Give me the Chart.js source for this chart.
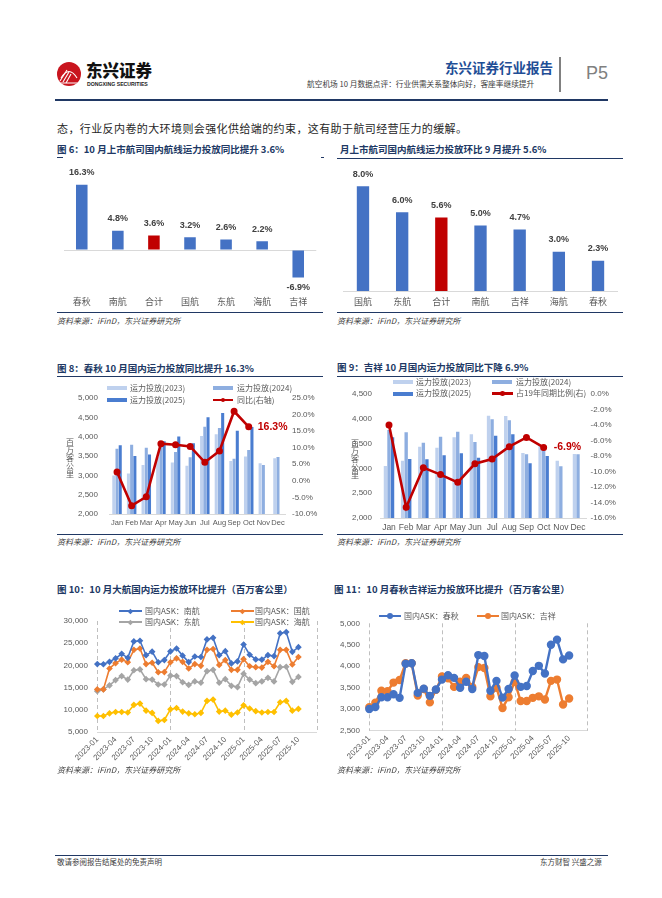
<!DOCTYPE html>
<html>
<head>
<meta charset="utf-8">
<script src="https://cdn.jsdelivr.net/npm/chart.js@4.4.0/dist/chart.umd.min.js"></script>
<style>
  body { margin: 0; background: #fff; width: 662px; height: 898px; position: relative; overflow: hidden;
         font-family: 'Noto Sans CJK SC', sans-serif; }
  .a { position: absolute; white-space: nowrap; z-index: 2; }
  .title { font-size: 9.5px; font-weight: 700; color: #203864; line-height: 12px; }
  .src { font-size: 8px; font-style: italic; color: #404040; line-height: 10px; }
  .hl { position: absolute; background: #203864; z-index: 2; }
  .lg { font-size: 8px; color: #595959; line-height: 10px; }
  .ytitle { position: absolute; z-index: 2; font-size: 8px; color: #595959; width: 8px; line-height: 8px;
            white-space: normal; word-break: break-all; text-align: center; }
  canvas { position: absolute; z-index: 1; }
</style>
</head>
<body>

<!-- page header -->
<svg class="a" style="left:57px;top:62px" width="24" height="24" viewBox="0 0 24 24">
  <defs><clipPath id="lc"><circle cx="12" cy="12" r="12"/></clipPath></defs>
  <circle cx="12" cy="12" r="12" fill="#C9151E"/>
  <g clip-path="url(#lc)" stroke="#fff" stroke-width="1.1" fill="none">
    <path d="M3 19 L10 8"/><path d="M6 20 L12 10"/><path d="M9 21 L14 12"/>
    <path d="M4 16 Q12 3 20 16"/><path d="M2 21 L22 21"/>
  </g>
</svg>
<div class="a" style="left:86px;top:60px;font-size:16.5px;font-weight:900;color:#111;line-height:20px">东兴证券</div>
<div class="a" style="left:87px;top:81px;font-size:5.2px;font-weight:700;color:#222;line-height:6px;font-family:'Liberation Sans'">DONGXING SECURITIES</div>
<div class="a" style="left:445px;top:59px;font-size:13.5px;font-weight:700;color:#1F4E96;line-height:16px">东兴证券行业报告</div>
<div class="a" style="left:307px;top:79px;font-size:7.7px;color:#404040;line-height:10px">航空机场 10 月数据点评：行业供需关系整体向好，客座率继续提升</div>
<div class="hl" style="left:559px;top:57px;width:1.5px;height:35px;background:#808080"></div>
<div class="a" style="left:586px;top:62px;font-size:18px;color:#808080;line-height:22px;font-family:'Liberation Sans'">P5</div>
<div class="hl" style="left:55px;top:99px;width:553px;height:2px"></div>

<div class="a" style="left:57px;top:121px;font-size:11px;letter-spacing:0.4px;color:#262626;line-height:14px">态，行业反内卷的大环境则会强化供给端的约束，这有助于航司经营压力的缓解。</div>

<!-- figure titles, rules and sources -->
<div class="a title" style="left:57px;top:143px">图 6：10 月上市航司国内航线运力投放同比提升 3.6%</div>
<div class="hl" style="left:57px;top:157px;width:6px;height:1px"></div>
<div class="hl" style="left:321px;top:157px;width:3px;height:1px"></div>
<div class="hl" style="left:57px;top:311.5px;width:266px;height:1.5px"></div>
<div class="a src" style="left:57px;top:316px">资料来源：iFinD，东兴证券研究所</div>

<div class="a title" style="left:340px;top:143px">月上市航司国内航线运力投放环比 9 月提升 5.6%</div>
<div class="hl" style="left:337px;top:157.5px;width:286px;height:1.5px"></div>
<div class="hl" style="left:337px;top:311.5px;width:286px;height:1.5px"></div>
<div class="a src" style="left:337px;top:316px">资料来源：iFinD，东兴证券研究所</div>

<div class="a title" style="left:57px;top:362px">图 8：春秋 10 月国内运力投放同比提升 16.3%</div>
<div class="hl" style="left:57px;top:375.5px;width:266px;height:1.5px"></div>
<div class="hl" style="left:57px;top:533.5px;width:266px;height:1.5px"></div>
<div class="a src" style="left:57px;top:537px">资料来源：iFinD，东兴证券研究所</div>
<div class="ytitle" style="left:66px;top:438px">百万客公里</div>

<div class="a title" style="left:337px;top:361px">图 9：吉祥 10 月国内运力投放同比下降 6.9%</div>
<div class="hl" style="left:337px;top:375.5px;width:286px;height:1.5px"></div>
<div class="hl" style="left:337px;top:533.5px;width:286px;height:1.5px"></div>
<div class="a src" style="left:337px;top:537px">资料来源：iFinD，东兴证券研究所</div>
<div class="ytitle" style="left:351px;top:439px">百万客公里</div>

<div class="a title" style="left:57px;top:583px">图 10：10 月大航国内运力投放环比提升（百万客公里）</div>
<div class="a src" style="left:57px;top:765px">资料来源：iFinD，东兴证券研究所</div>
<div class="a title" style="left:334px;top:583px">图 11：10 月春秋吉祥运力投放环比提升（百万客公里）</div>
<div class="a src" style="left:337px;top:765px">资料来源：iFinD，东兴证券研究所</div>

<!-- footer -->
<div class="hl" style="left:55px;top:855px;width:553px;height:1px"></div>
<div class="a" style="left:57px;top:857px;font-size:7.5px;color:#404040;line-height:10px">敬请参阅报告结尾处的免责声明</div>
<div class="a" style="left:540px;top:857px;font-size:7.5px;color:#404040;line-height:10px">东方财智 兴盛之源</div>

<script>
// ---- data ----
const fig6Names = ['春秋', '南航', '合计', '国航', '东航', '海航', '吉祥'];
const fig6Values = [16.3, 4.8, 3.6, 3.2, 2.6, 2.2, -6.9];

const fig7Names = ['国航', '东航', '合计', '南航', '吉祥', '海航', '春秋'];
const fig7Values = [8.0, 6.0, 5.6, 5.0, 4.7, 3.0, 2.3];

const months = ['Jan', 'Feb', 'Mar', 'Apr', 'May', 'Jun', 'Jul', 'Aug', 'Sep', 'Oct', 'Nov', 'Dec'];

// 春秋 domestic capacity, million seat-km
const springAsk2023 = [2995, 3050, 3270, 3470, 3330, 3250, 4020, 4060, 3370, 3485, 3310, 3440];
const springAsk2024 = [3685, 3790, 3715, 3860, 3605, 3468, 4255, 4225, 3430, 3655, 3270, 3472];
const springAsk2025 = [3780, 3502, 3537, 3880, 4005, 3830, 4502, 4615, 4156, 4251, null, null];
const springYoy = [2.7, -7.5, -4.8, 11.2, 10.9, 10.4, 5.6, 9.0, 21.0, 16.3, null, null];

// 吉祥
const juneyaoAsk2023 = [3048, 3156, 3438, 3418, 3626, 3687, 4063, 4056, 3311, 3472, 3156, 3290];
const juneyaoAsk2024 = [3774, 3727, 3519, 3640, 3740, 3532, 3989, 3969, 3284, 3405, 3042, 3284];
const juneyaoAsk2025 = [3626, 3190, 3183, 3264, 3304, 3217, 3660, 3687, 3102, 3250, null, null];
const juneyaoVs2019 = [-4.0, -14.6, -9.5, -10.4, -11.4, -9.0, -8.4, -6.8, -5.6, -6.9, null, null];

const monthLabels = [
  '2023-01', '2023-02', '2023-03', '2023-04', '2023-05', '2023-06', '2023-07', '2023-08', '2023-09', '2023-10', '2023-11', '2023-12',
  '2024-01', '2024-02', '2024-03', '2024-04', '2024-05', '2024-06', '2024-07', '2024-08', '2024-09', '2024-10', '2024-11', '2024-12',
  '2025-01', '2025-02', '2025-03', '2025-04', '2025-05', '2025-06', '2025-07', '2025-08', '2025-09', '2025-10', '2025-11', '2025-12',
  '2026-01'
];

const askSouthern = [20300, 20250, 20800, 21600, 22600, 21700, 25400, 25550, 22300, 23100, 20700, 21200,
                     23150, 23800, 22200, 20750, 22000, 21900, 25850, 26200, 22300, 23200, 20450, 20900,
                     24700, 22400, 21350, 21300, 22300, 22100, 27250, 27500, 23050, 24100];
const askAirChina = [14600, 14600, 19300, 20500, 21300, 20700, 23500, 23800, 20300, 20600, 18450, 18500,
                     20700, 21600, 20800, 19300, 20300, 19900, 23500, 23700, 20100, 21200, 19000, 19000,
                     21400, 19800, 19600, 19500, 20800, 19800, 23500, 23500, 20200, 21900];
const askEastern = [14200, 14600, 15500, 16700, 17600, 16800, 18900, 19100, 16900, 16800, 15700, 15700,
                    17700, 17600, 16200, 15600, 16400, 16100, 18700, 19000, 16100, 16900, 15400, 15100,
                    18100, 16800, 16000, 16400, 17200, 16400, 19600, 19700, 16300, 17400];
const askHainan = [8600, 8600, 9200, 9500, 9500, 9400, 11100, 11400, 9800, 9300, 7500, 7700,
                   10100, 10400, 9600, 9200, 9000, 9300, 12000, 12300, 9600, 9800, 8900, 9400,
                   11000, 10300, 9700, 9400, 9500, 9500, 11700, 12000, 9800, 10200];

const askSpring = [3005, 3050, 3280, 3280, 3350, 3265, 4060, 4070, 3380, 3480, 3310, 3460,
                   3690, 3790, 3730, 3500, 3640, 3470, 4260, 4240, 3430, 3660, 3270, 3470,
                   3785, 3520, 3540, 3890, 4010, 3830, 4500, 4620, 4160, 4250];
const askJuneyao = [3045, 3150, 3430, 3420, 3620, 3680, 4070, 4070, 3320, 3470, 3160, 3450,
                    3760, 3720, 3520, 3640, 3730, 3520, 3980, 3960, 3300, 3500, 3030, 3280,
                    3640, 3190, 3190, 3265, 3300, 3225, 3660, 3690, 3110, 3250];

// ---- styling ----
const BLUE = '#4472C4', RED = '#C00000', ORANGE = '#ED7D31', GRAY = '#A5A5A5', YELLOW = '#FFC000';
const C23 = '#BFD1EE', C24 = '#8EAEE0', C25 = '#4A7DD0';
const AXIS = '#D9D9D9';

Chart.defaults.font.family = "'Liberation Sans', 'Noto Sans CJK SC', sans-serif";
Chart.defaults.color = '#595959';
Chart.defaults.animation = false;
Chart.defaults.plugins.legend.display = false;
Chart.defaults.plugins.tooltip.enabled = false;

function mkCanvas(left, top, w, h) {
  const c = document.createElement('canvas');
  c.width = w; c.height = h;
  c.style.left = left + 'px'; c.style.top = top + 'px';
  c.style.width = w + 'px'; c.style.height = h + 'px';
  document.body.appendChild(c);
  return c;
}
const fixH = h => s => { s.height = h; };
const fixW = w => s => { s.width = w; };
const thousands = v => v.toLocaleString('en-US');

// value labels above / below bars
const barLabels = {
  id: 'barLabels',
  afterDatasetsDraw(chart, args, o) {
    const ctx = chart.ctx;
    const ds = chart.data.datasets[0];
    ctx.save();
    ctx.font = "bold 9px 'Liberation Sans'";
    ctx.fillStyle = '#404040';
    ctx.textAlign = 'center';
    ctx.textBaseline = 'middle';
    chart.getDatasetMeta(0).data.forEach((bar, i) => {
      const v = ds.data[i];
      const y = v >= 0 ? bar.y - o.gap : bar.y + o.gapNeg;
      ctx.fillText(v.toFixed(1) + '%', bar.x, y);
    });
    ctx.restore();
  }
};

// red call-out next to the last point of a line
const pointLabel = {
  id: 'pointLabel',
  afterDatasetsDraw(chart, args, o) {
    if (o.index === undefined) return;
    const pt = chart.getDatasetMeta(o.ds).data[o.index];
    const v = chart.data.datasets[o.ds].data[o.index];
    const ctx = chart.ctx;
    ctx.save();
    ctx.font = "bold 10.5px 'Liberation Sans'";
    ctx.fillStyle = RED;
    ctx.textAlign = 'left';
    ctx.textBaseline = 'middle';
    ctx.fillText(v.toFixed(1) + '%', pt.x + o.dx, pt.y);
    ctx.restore();
  }
};

// dashed vertical lines at each January
const yearLines = {
  id: 'yearLines',
  beforeDatasetsDraw(chart) {
    const {ctx, chartArea, scales: {x}} = chart;
    ctx.save();
    ctx.strokeStyle = '#BFBFBF';
    ctx.lineWidth = 1;
    ctx.setLineDash([4, 3]);
    chart.data.labels.forEach((lab, i) => {
      if (lab.endsWith('-01')) {
        const px = Math.round(x.getPixelForValue(i)) + 0.5;
        ctx.beginPath();
        ctx.moveTo(px, chartArea.top);
        ctx.lineTo(px, chartArea.bottom);
        ctx.stroke();
      }
    });
    ctx.restore();
  }
};

// html legend entries
function legend(x, y, kind, ds, textX) {
  const color = ds.borderColor || ds.backgroundColor;
  const el = document.createElement('div');
  el.className = 'a';
  if (kind.type === 'box') {
    el.style.cssText = `left:${x}px;top:${y - kind.h / 2}px;width:${kind.w}px;height:${kind.h}px;background:${color}`;
    document.body.appendChild(el);
  } else {
    el.style.cssText = `left:${x}px;top:${y - kind.lw / 2}px;width:${kind.w}px;height:${kind.lw}px;background:${color}`;
    document.body.appendChild(el);
    const m = document.createElement('div');
    m.className = 'a';
    const r = kind.r;
    m.style.cssText = `left:${x + kind.w / 2 - r}px;top:${y - r}px;width:${2 * r}px;height:${2 * r}px;background:${color};` +
      (kind.marker === 'diamond' ? 'transform:rotate(45deg) scale(0.8);' : 'border-radius:50%;');
    document.body.appendChild(m);
  }
  const t = document.createElement('div');
  t.className = 'a lg';
  t.style.left = textX + 'px';
  t.style.top = (y - 5.5) + 'px';
  t.textContent = ds.label;
  document.body.appendChild(t);
}

// ---- 图6 ----
new Chart(mkCanvas(57, 160, 266, 152), {
  type: 'bar',
  data: {
    labels: fig6Names,
    datasets: [{
      data: fig6Values,
      backgroundColor: fig6Names.map(n => n === '合计' ? RED : BLUE),
      categoryPercentage: 1, barPercentage: 0.32
    }]
  },
  options: {
    responsive: false,
    layout: { padding: { left: 5.75, right: 4.75, top: 10, bottom: 0 } },
    scales: {
      x: {
        grid: { display: false, drawTicks: false }, border: { display: false },
        ticks: { font: { size: 9 }, color: '#595959', padding: 15.5, maxRotation: 0 },
        afterFit: fixH(30)
      },
      y: {
        min: -8, max: 20,
        ticks: { display: false, stepSize: 4 },
        grid: { drawTicks: false, color: c => c.tick && c.tick.value === 0 ? AXIS : 'transparent' },
        border: { display: false },
        afterFit: fixW(0)
      }
    },
    plugins: { barLabels: { gap: 12, gapNeg: 9.5 } }
  },
  plugins: [barLabels]
});

// ---- 图7 ----
new Chart(mkCanvas(337, 160, 286, 152), {
  type: 'bar',
  data: {
    labels: fig7Names,
    datasets: [{
      data: fig7Values,
      backgroundColor: fig7Names.map(n => n === '合计' ? RED : BLUE),
      categoryPercentage: 1, barPercentage: 0.315
    }]
  },
  options: {
    responsive: false,
    layout: { padding: { left: 6.4, right: 5.4, top: 6.5, bottom: 0 } },
    scales: {
      x: {
        grid: { display: false, drawTicks: false }, border: { color: AXIS },
        ticks: { font: { size: 9 }, color: '#595959', padding: 6.6, maxRotation: 0 },
        afterFit: fixH(21)
      },
      y: {
        min: 0, max: 9.5, display: false
      }
    },
    plugins: { barLabels: { gap: 12, gapNeg: 9 } }
  },
  plugins: [barLabels]
});

// ---- 图8 ----
const monthTicks = { autoSkip: false, maxRotation: 0, minRotation: 0 };
const chart8 = new Chart(mkCanvas(57, 380, 266, 152), {
  type: 'bar',
  data: {
    labels: months,
    datasets: [
      { label: '运力投放(2023)', data: springAsk2023, backgroundColor: C23, order: 1, categoryPercentage: 0.66, barPercentage: 0.95 },
      { label: '运力投放(2024)', data: springAsk2024, backgroundColor: C24, order: 1, categoryPercentage: 0.66, barPercentage: 0.95 },
      { label: '运力投放(2025)', data: springAsk2025, backgroundColor: C25, order: 1, categoryPercentage: 0.66, barPercentage: 0.95 },
      { type: 'line', label: '同比(右轴)', data: springYoy, yAxisID: 'y1', order: 0,
        borderColor: RED, backgroundColor: RED, borderWidth: 2.6, pointRadius: 2.2, tension: 0 }
    ]
  },
  options: {
    responsive: false,
    layout: { padding: { left: 0, right: 0, top: 18, bottom: 0 } },
    scales: {
      x: {
        grid: { display: false, drawTicks: false }, border: { color: AXIS },
        ticks: { ...monthTicks, font: { size: 7.5 }, padding: 4 },
        afterFit: fixH(18)
      },
      y: {
        position: 'left', min: 2000, max: 5000,
        ticks: { stepSize: 500, font: { size: 8 }, padding: 11.7, callback: thousands },
        grid: { display: false, drawTicks: false }, border: { display: false },
        afterFit: fixW(52.7)
      },
      y1: {
        position: 'right', min: -10, max: 25,
        ticks: { stepSize: 5, font: { size: 8 }, padding: 6.7, callback: v => v.toFixed(1) + '%' },
        grid: { display: false, drawTicks: false }, border: { display: false },
        afterFit: fixW(37.7)
      }
    },
    plugins: { pointLabel: { ds: 3, index: 9, dx: 9 } }
  },
  plugins: [pointLabel]
});
const box = { type: 'box', w: 20, h: 4 };
legend(107, 388, box, chart8.data.datasets[0], 130);
legend(213, 388, box, chart8.data.datasets[1], 237);
legend(107, 400, box, chart8.data.datasets[2], 130);
legend(213, 400, { type: 'line', w: 20, lw: 2.5, r: 2.3, marker: 'circle' }, chart8.data.datasets[3], 237);

// ---- 图9 ----
const chart9 = new Chart(mkCanvas(337, 376, 286, 158), {
  type: 'bar',
  data: {
    labels: months,
    datasets: [
      { label: '运力投放(2023)', data: juneyaoAsk2023, backgroundColor: C23, order: 1, categoryPercentage: 0.62, barPercentage: 0.95 },
      { label: '运力投放(2024)', data: juneyaoAsk2024, backgroundColor: C24, order: 1, categoryPercentage: 0.62, barPercentage: 0.95 },
      { label: '运力投放(2025)', data: juneyaoAsk2025, backgroundColor: C25, order: 1, categoryPercentage: 0.62, barPercentage: 0.95 },
      { type: 'line', label: '占19年同期比例(右)', data: juneyaoVs2019, yAxisID: 'y1', order: 0,
        borderColor: RED, backgroundColor: RED, borderWidth: 2.6, pointRadius: 2.2, tension: 0 }
    ]
  },
  options: {
    responsive: false,
    layout: { padding: { left: 0, right: 0, top: 18, bottom: 0 } },
    scales: {
      x: {
        grid: { display: false, drawTicks: false }, border: { color: AXIS },
        ticks: { ...monthTicks, font: { size: 8.5 }, padding: 4.6 },
        afterFit: fixH(16)
      },
      y: {
        position: 'left', min: 2000, max: 4500,
        ticks: { stepSize: 500, font: { size: 8 }, padding: 8.4, callback: thousands },
        grid: { display: false, drawTicks: false }, border: { display: false },
        afterFit: fixW(43.4)
      },
      y1: {
        position: 'right', min: -16, max: 0,
        ticks: { stepSize: 2, font: { size: 8 }, padding: 4, callback: v => v.toFixed(1) + '%' },
        grid: { display: false, drawTicks: false }, border: { display: false },
        afterFit: fixW(36.4)
      }
    },
    plugins: { pointLabel: { ds: 3, index: 9, dx: 10 } }
  },
  plugins: [pointLabel]
});
legend(393, 382, box, chart9.data.datasets[0], 416);
legend(492, 382, box, chart9.data.datasets[1], 516);
legend(393, 393.5, box, chart9.data.datasets[2], 416);
legend(492, 393.5, { type: 'line', w: 21, lw: 2.5, r: 2.3, marker: 'circle' }, chart9.data.datasets[3], 516);

// ---- shared month axis for 图10 / 图11 ----
function monthAxis(height) {
  return {
    type: 'category', offset: false,
    grid: { display: false, drawTicks: false }, border: { color: AXIS },
    ticks: {
      autoSkip: false, minRotation: 45, maxRotation: 45, font: { size: 8 }, padding: 3,
      callback: (v, i) => (i % 3 === 0 && i <= 33) ? monthLabels[i] : null
    },
    afterFit: fixH(height)
  };
}

// ---- 图10 ----
const lineStyle10 = { borderWidth: 1.6, pointRadius: 2.2, pointStyle: 'rectRot', tension: 0 };
const chart10 = new Chart(mkCanvas(57, 598, 266, 172), {
  type: 'line',
  data: {
    labels: monthLabels,
    datasets: [
      { label: '国内ASK：南航', data: askSouthern, borderColor: BLUE, backgroundColor: BLUE, ...lineStyle10 },
      { label: '国内ASK：国航', data: askAirChina, borderColor: ORANGE, backgroundColor: ORANGE, ...lineStyle10 },
      { label: '国内ASK：东航', data: askEastern, borderColor: GRAY, backgroundColor: GRAY, ...lineStyle10 },
      { label: '国内ASK：海航', data: askHainan, borderColor: YELLOW, backgroundColor: YELLOW, ...lineStyle10 }
    ]
  },
  options: {
    responsive: false,
    layout: { padding: { left: 0, right: 6.3, top: 23, bottom: 0 } },
    scales: {
      x: monthAxis(38),
      y: {
        min: 5000, max: 30000,
        ticks: { stepSize: 5000, font: { size: 8 }, padding: 9.3, callback: thousands },
        grid: { display: false, drawTicks: false }, border: { display: false },
        afterFit: fixW(40.3)
      }
    }
  },
  plugins: [yearLines]
});
const diamond = { type: 'line', w: 23, lw: 1.6, r: 2.4, marker: 'diamond' };
legend(119, 611, diamond, chart10.data.datasets[0], 145);
legend(231, 611, diamond, chart10.data.datasets[1], 255);
legend(119, 622, diamond, chart10.data.datasets[2], 145);
legend(231, 622, diamond, chart10.data.datasets[3], 255);

// ---- 图11 ----
const lineStyle11 = { borderWidth: 2.4, pointRadius: 3, tension: 0 };
const chart11 = new Chart(mkCanvas(337, 598, 286, 172), {
  type: 'line',
  data: {
    labels: monthLabels,
    datasets: [
      { label: '国内ASK：春秋', data: askSpring, borderColor: BLUE, backgroundColor: BLUE, ...lineStyle11 },
      { label: '国内ASK：吉祥', data: askJuneyao, borderColor: ORANGE, backgroundColor: ORANGE, ...lineStyle11 }
    ]
  },
  options: {
    responsive: false,
    layout: { padding: { left: 0, right: 35.7, top: 25.3, bottom: 0 } },
    scales: {
      x: monthAxis(39.3),
      y: {
        min: 2500, max: 5000,
        ticks: { stepSize: 500, font: { size: 8 }, padding: 9.3, callback: thousands },
        grid: { display: false, drawTicks: false }, border: { display: false },
        afterFit: fixW(32.3)
      }
    }
  },
  plugins: [yearLines]
});
const dot = { type: 'line', w: 22, lw: 2.4, r: 3, marker: 'circle' };
legend(379, 616, dot, chart11.data.datasets[0], 404);
legend(477, 616, dot, chart11.data.datasets[1], 501);
</script>
</body>
</html>
